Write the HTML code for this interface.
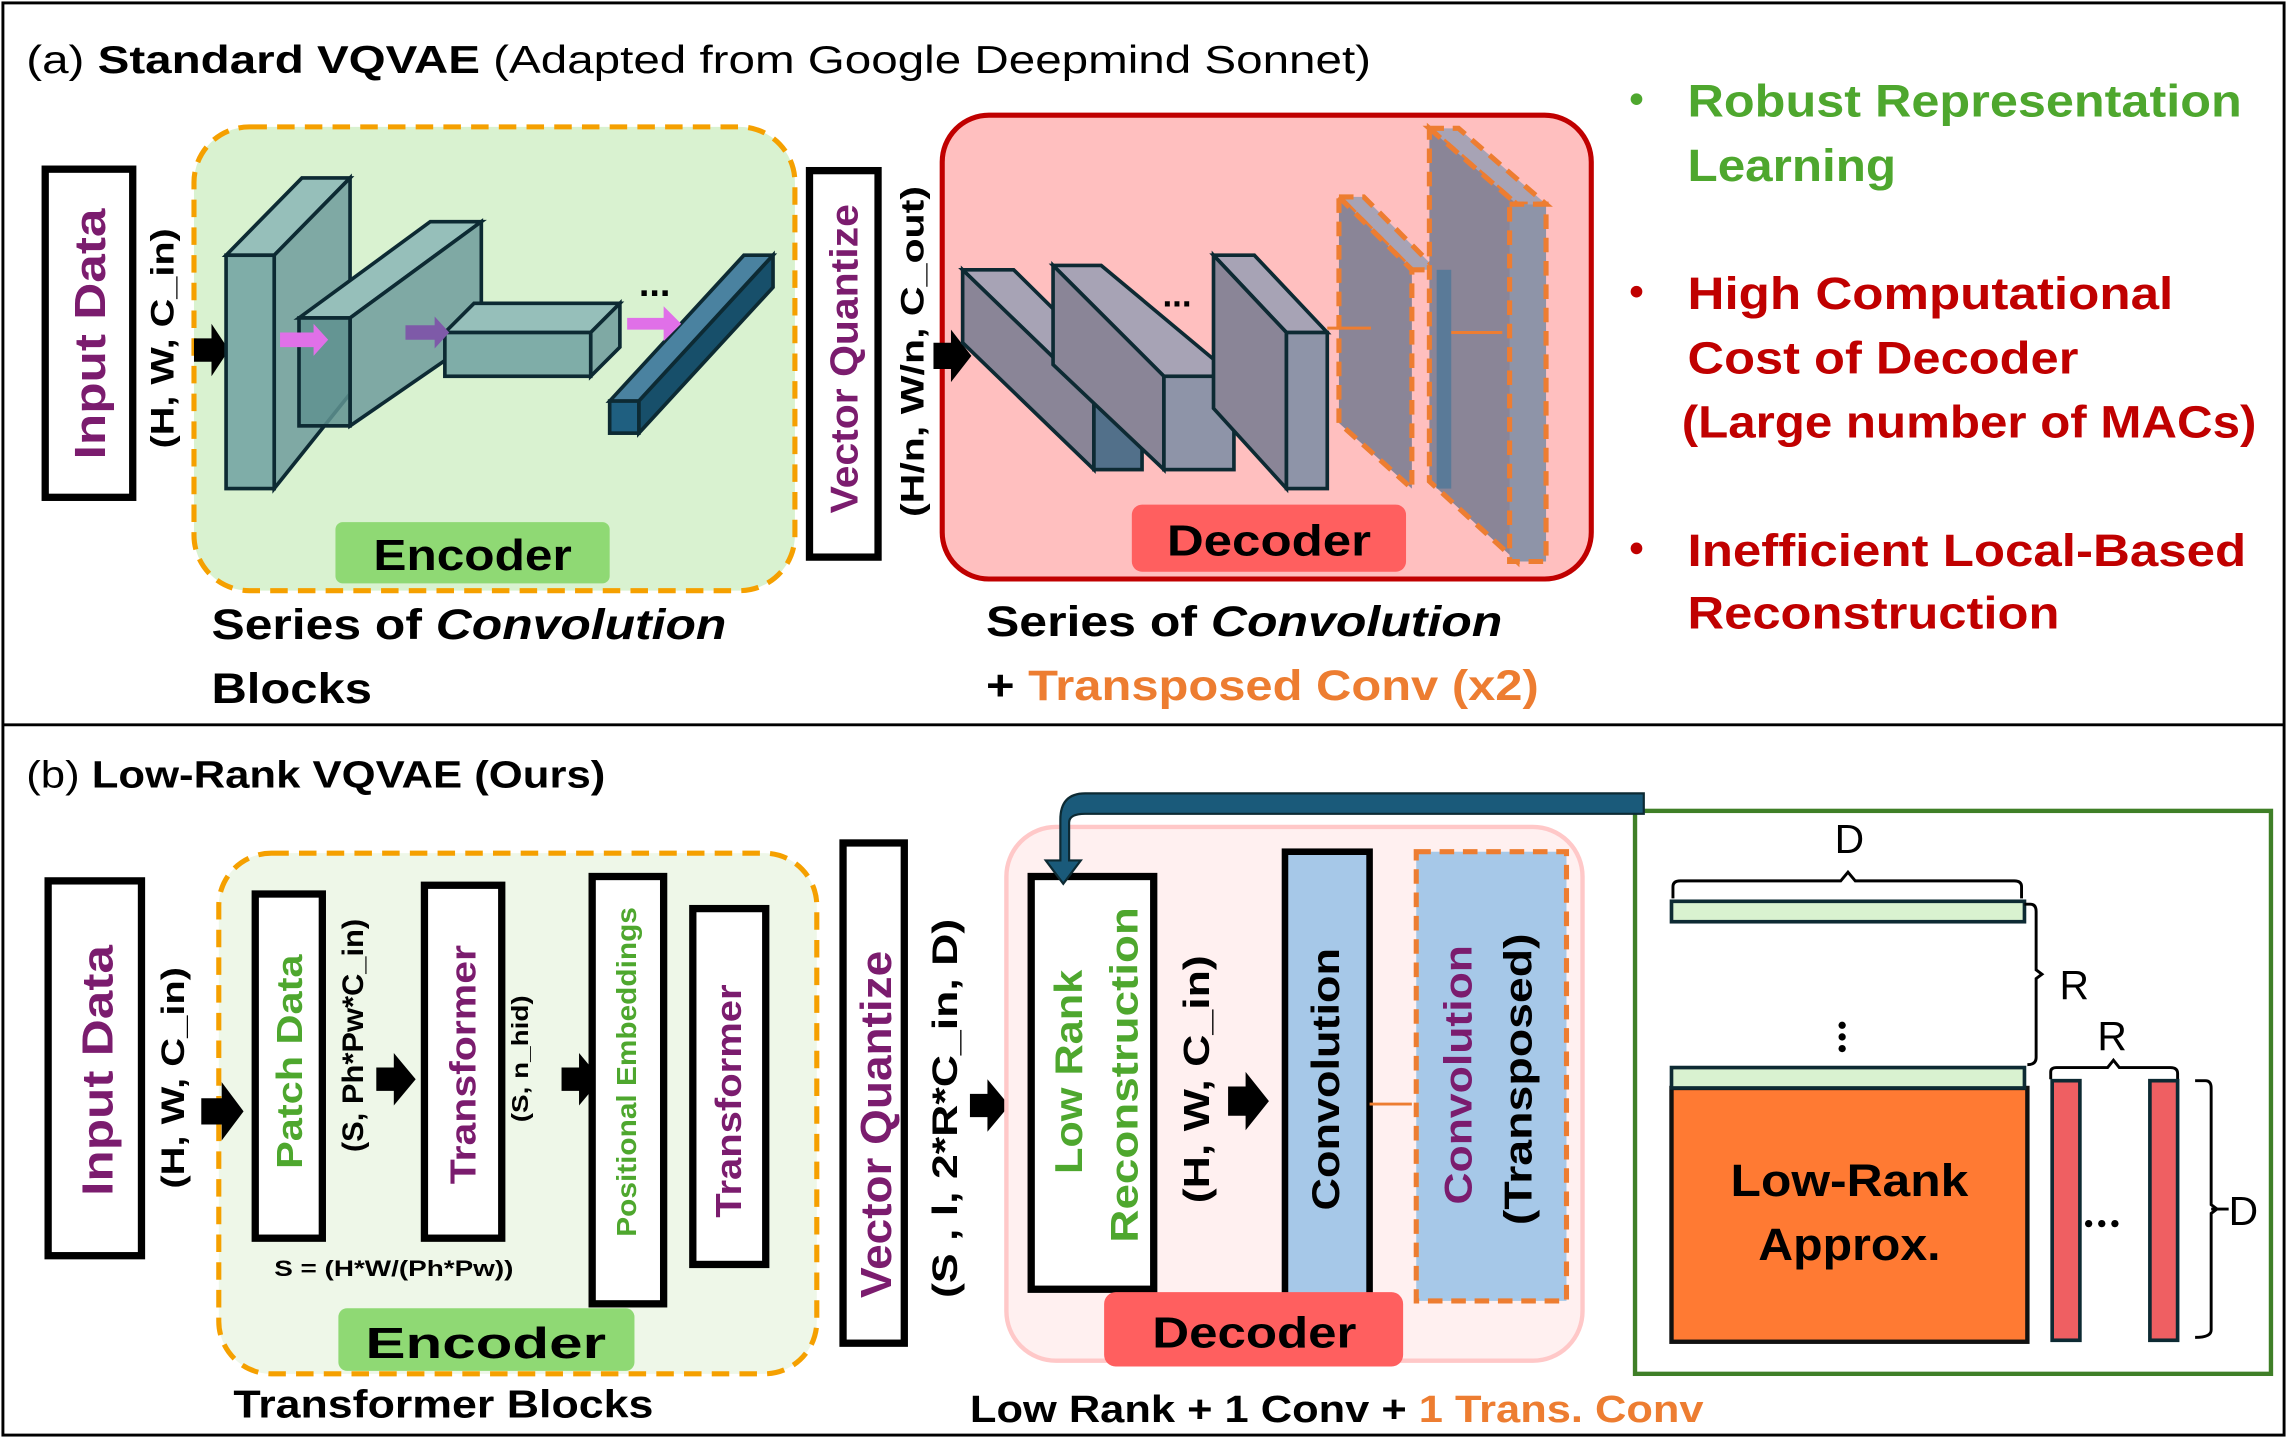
<!DOCTYPE html>
<html><head><meta charset="utf-8"><style>
html,body{margin:0;padding:0;background:#fff;}
svg{display:block;}
text{font-family:"Liberation Sans",sans-serif;font-weight:bold;}
</style></head><body>
<svg width="2287" height="1438" viewBox="0 0 1568 986" preserveAspectRatio="none" xmlns="http://www.w3.org/2000/svg">
<rect x="2" y="2" width="1564" height="982" fill="#fff" stroke="#000" stroke-width="2"/>
<line x1="2" y1="497" x2="1566" y2="497" stroke="#000" stroke-width="2"/>

<!-- Panel A -->
<text x="18" y="50" font-size="27" style="font-weight:normal" textLength="922" lengthAdjust="spacingAndGlyphs">(a) <tspan font-weight="bold">Standard VQVAE</tspan> (Adapted from Google Deepmind Sonnet)</text>

<rect x="31" y="116" width="60" height="225" fill="#fff" stroke="#000" stroke-width="5"/>
<text transform="translate(72,229) rotate(-90)" text-anchor="middle" font-size="30" fill="#7b1c6e" textLength="172" lengthAdjust="spacingAndGlyphs">Input Data</text>
<text transform="translate(119,232) rotate(-90)" text-anchor="middle" font-size="22" textLength="151" lengthAdjust="spacingAndGlyphs">(H, W, C_in)</text>

<rect x="133" y="87" width="412" height="318" rx="38" fill="#d9f2d0" stroke="#f5a000" stroke-width="3.5" stroke-dasharray="12,7"/>
<polygon points="133,232 145,232 145,222 157,240 145,258 145,248 133,248" fill="#000"/>
<g stroke="#0d2a33" stroke-width="2.5">
<polygon points="155,175 207,122 240,122 188,175" fill="#96bfba"/>
<polygon points="188,175 240,122 240,270 188,335" fill="#7fa9a4"/>
<rect x="155" y="175" width="33" height="160" fill="#7fada8"/>
<polygon points="205,218 295,152 330,152 240,218" fill="#96bfba"/>
<polygon points="240,218 330,152 330,230 240,292" fill="#7fa9a4"/>
<rect x="205" y="218" width="35" height="74" fill="#5f9290" fill-opacity="0.85"/>
<polygon points="305,228 325,208 425,208 405,228" fill="#96bfba"/>
<polygon points="405,228 425,208 425,238 405,258" fill="#7fa9a4"/>
<rect x="305" y="228" width="100" height="30" fill="#7fada8"/>
<polygon points="418,275 510,175 530,175 438,275" fill="#4a82a0"/>
<polygon points="438,275 530,175 530,197 438,297" fill="#174f6a"/>
<rect x="418" y="275" width="20" height="22" fill="#1f5f80"/>
</g>
<polygon points="192,228 215,228 215,222 225,233 215,244 215,238 192,238" fill="#e070e8"/>
<polygon points="278,223 298,223 298,217 308,228 298,239 298,233 278,233" fill="#7e5aa8"/>
<polygon points="430,218 455,218 455,210 467,222 455,234 455,226 430,226" fill="#e070e8"/>
<text x="438" y="203" font-size="26">...</text>
<rect x="230" y="358" width="188" height="42" rx="5" fill="#8fd974"/>
<text x="324" y="391" text-anchor="middle" font-size="30" textLength="136" lengthAdjust="spacingAndGlyphs">Encoder</text>
<text x="145" y="438" font-size="29" textLength="353" lengthAdjust="spacingAndGlyphs">Series of <tspan font-style="italic">Convolution</tspan></text>
<text x="145" y="482" font-size="29" textLength="110" lengthAdjust="spacingAndGlyphs">Blocks</text>

<rect x="555" y="117" width="47" height="265" fill="#fff" stroke="#000" stroke-width="5"/>
<text transform="translate(588,246) rotate(-90)" text-anchor="middle" font-size="27" fill="#7b1c6e" textLength="212" lengthAdjust="spacingAndGlyphs">Vector Quantize</text>
<text transform="translate(633,241) rotate(-90)" text-anchor="middle" font-size="22" textLength="227" lengthAdjust="spacingAndGlyphs">(H/n, W/n, C_out)</text>

<rect x="646" y="79" width="445" height="318" rx="32" fill="#ffbfbf" stroke="#c00000" stroke-width="3.5"/>
<polygon points="640,235 652,235 652,226 666,244 652,262 652,253 640,253" fill="#000"/>
<g stroke="#0d2a33" stroke-width="2.5">
<polygon points="660,185 695,185 783,272 750,272" fill="#a7a3b5"/>
<polygon points="660,185 750,272 750,322 660,235" fill="#8a8597"/>
<rect x="750" y="272" width="33" height="50" fill="#52708a"/>
<polygon points="722,182 755,182 846,258 798,258" fill="#a7a3b5"/>
<polygon points="722,182 798,258 798,322 722,250" fill="#8a8597"/>
<rect x="798" y="258" width="48" height="64" fill="#8e94a8"/>
<polygon points="832,175 860,175 910,228 882,228" fill="#a7a3b5"/>
<polygon points="832,175 882,228 882,335 832,280" fill="#8a8597"/>
<rect x="882" y="228" width="28" height="107" fill="#8e94a8"/>
</g>
<g stroke="#ed7d31" stroke-width="3.5" stroke-dasharray="10,6">
<polygon points="918,135 935,135 985,185 968,185" fill="#a7a3b5"/>
<polygon points="918,135 968,185 968,335 918,290" fill="#8a8597"/>
<polygon points="980,88 1000,88 1060,140 1040,140" fill="#a7a3b5"/>
<polygon points="980,88 1040,140 1040,385 980,330" fill="#8a8597"/>
<rect x="1035" y="140" width="25" height="245" fill="#8e94a8"/>
</g>
<rect x="985" y="185" width="10" height="150" fill="#5a7a98"/>
<line x1="910" y1="225" x2="940" y2="225" stroke="#ed7d31" stroke-width="2"/>
<line x1="995" y1="228" x2="1030" y2="228" stroke="#ed7d31" stroke-width="2"/>
<text x="797" y="210" font-size="24">...</text>
<rect x="776" y="346" width="188" height="46" rx="7" fill="#ff5f5f"/>
<text x="870" y="381" text-anchor="middle" font-size="30" textLength="140" lengthAdjust="spacingAndGlyphs">Decoder</text>
<text x="676" y="436" font-size="29" textLength="354" lengthAdjust="spacingAndGlyphs">Series of <tspan font-style="italic">Convolution</tspan></text>
<text x="676" y="480" font-size="29" textLength="379" lengthAdjust="spacingAndGlyphs">+ <tspan fill="#ed7d31">Transposed Conv (x2)</tspan></text>

<g font-size="31">
<circle cx="1122" cy="68" r="4" fill="#4ea72e"/>
<text x="1157" y="80" fill="#4ea72e" textLength="380" lengthAdjust="spacingAndGlyphs">Robust Representation</text>
<text x="1157" y="124" fill="#4ea72e" textLength="143" lengthAdjust="spacingAndGlyphs">Learning</text>
<circle cx="1122" cy="200" r="4" fill="#c00000"/>
<text x="1157" y="212" fill="#c00000" textLength="333" lengthAdjust="spacingAndGlyphs">High Computational</text>
<text x="1157" y="256" fill="#c00000" textLength="268" lengthAdjust="spacingAndGlyphs">Cost of Decoder</text>
<text x="1153" y="300" fill="#c00000" textLength="394" lengthAdjust="spacingAndGlyphs">(Large number of MACs)</text>
<circle cx="1122" cy="376" r="4" fill="#c00000"/>
<text x="1157" y="388" fill="#c00000" textLength="383" lengthAdjust="spacingAndGlyphs">Inefficient Local-Based</text>
<text x="1157" y="431" fill="#c00000" textLength="255" lengthAdjust="spacingAndGlyphs">Reconstruction</text>
</g>

<!-- Panel B -->
<text x="18" y="540" font-size="26" style="font-weight:normal" textLength="397" lengthAdjust="spacingAndGlyphs">(b) <tspan font-weight="bold">Low-Rank VQVAE (Ours)</tspan></text>

<rect x="33" y="604" width="64" height="257" fill="#fff" stroke="#000" stroke-width="5"/>
<text transform="translate(77,734) rotate(-90)" text-anchor="middle" font-size="30" fill="#7b1c6e" textLength="172" lengthAdjust="spacingAndGlyphs">Input Data</text>
<text transform="translate(126,739) rotate(-90)" text-anchor="middle" font-size="22" textLength="152" lengthAdjust="spacingAndGlyphs">(H, W, C_in)</text>

<rect x="150" y="585" width="410" height="357" rx="36" fill="#eef7e8" stroke="#f5a000" stroke-width="3.5" stroke-dasharray="12,7"/>
<polygon points="138,753 152,753 152,742 167,762 152,782 152,771 138,771" fill="#000"/>
<rect x="175" y="613" width="46" height="236" fill="#fff" stroke="#000" stroke-width="5"/>
<text transform="translate(207,728) rotate(-90)" text-anchor="middle" font-size="25" fill="#4ea72e" textLength="147" lengthAdjust="spacingAndGlyphs">Patch Data</text>
<text transform="translate(249,710) rotate(-90)" text-anchor="middle" font-size="20" textLength="160" lengthAdjust="spacingAndGlyphs">(S, Ph*Pw*C_in)</text>
<polygon points="258,732 270,732 270,722 285,740 270,758 270,748 258,748" fill="#000"/>
<rect x="291" y="607" width="53" height="242" fill="#fff" stroke="#000" stroke-width="5"/>
<text transform="translate(326,730) rotate(-90)" text-anchor="middle" font-size="25" fill="#7b1c6e" textLength="164" lengthAdjust="spacingAndGlyphs">Transformer</text>
<text transform="translate(362,726) rotate(-90)" text-anchor="middle" font-size="16" textLength="87" lengthAdjust="spacingAndGlyphs">(S, n_hid)</text>
<polygon points="385,732 397,732 397,722 412,740 397,758 397,748 385,748" fill="#000"/>
<rect x="406" y="601" width="49" height="293" fill="#fff" stroke="#000" stroke-width="5"/>
<text transform="translate(436,735) rotate(-90)" text-anchor="middle" font-size="19" fill="#4ea72e" textLength="226" lengthAdjust="spacingAndGlyphs">Positional Embeddings</text>
<rect x="475" y="623" width="50" height="244" fill="#fff" stroke="#000" stroke-width="5"/>
<text transform="translate(508,755) rotate(-90)" text-anchor="middle" font-size="25" fill="#7b1c6e" textLength="160" lengthAdjust="spacingAndGlyphs">Transformer</text>
<text x="188" y="875" font-size="15" textLength="164" lengthAdjust="spacingAndGlyphs">S = (H*W/(Ph*Pw))</text>
<rect x="232" y="897" width="203" height="43" rx="6" fill="#8fd974"/>
<text x="333" y="931" text-anchor="middle" font-size="30" textLength="165" lengthAdjust="spacingAndGlyphs">Encoder</text>
<text x="160" y="972" font-size="27" textLength="288" lengthAdjust="spacingAndGlyphs">Transformer Blocks</text>

<rect x="578" y="578" width="42" height="343" fill="#fff" stroke="#000" stroke-width="5"/>
<text transform="translate(611,771) rotate(-90)" text-anchor="middle" font-size="30" fill="#7b1c6e" textLength="238" lengthAdjust="spacingAndGlyphs">Vector Quantize</text>
<text transform="translate(656,760) rotate(-90)" text-anchor="middle" font-size="24" textLength="260" lengthAdjust="spacingAndGlyphs">(S , l, 2*R*C_in, D)</text>
<polygon points="665,750 677,750 677,740 692,758 677,776 677,766 665,766" fill="#000"/>

<rect x="690" y="567" width="395" height="366" rx="34" fill="#fff0f0" stroke="#ffc8c8" stroke-width="3"/>
<rect x="707" y="601" width="84" height="283" fill="#fff" stroke="#000" stroke-width="5"/>
<text transform="translate(742,735) rotate(-90)" text-anchor="middle" font-size="27" fill="#4ea72e" textLength="140" lengthAdjust="spacingAndGlyphs">Low Rank</text>
<text transform="translate(780,737) rotate(-90)" text-anchor="middle" font-size="27" fill="#4ea72e" textLength="230" lengthAdjust="spacingAndGlyphs">Reconstruction</text>
<text transform="translate(829,740) rotate(-90)" text-anchor="middle" font-size="25" textLength="170" lengthAdjust="spacingAndGlyphs">(H, W, C_in)</text>
<polygon points="842,745 854,745 854,735 870,755 854,775 854,765 842,765" fill="#000"/>
<rect x="881" y="584" width="58" height="318" fill="#a6c8e8" stroke="#000" stroke-width="4.5"/>
<text transform="translate(918,740) rotate(-90)" text-anchor="middle" font-size="27" textLength="180" lengthAdjust="spacingAndGlyphs">Convolution</text>
<line x1="939" y1="757" x2="968" y2="757" stroke="#ed7d31" stroke-width="2"/>
<rect x="971" y="584" width="103" height="308" fill="#a6c8e8" stroke="#ed7d31" stroke-width="3.5" stroke-dasharray="10,6"/>
<text transform="translate(1009,737) rotate(-90)" text-anchor="middle" font-size="27" fill="#7b1c6e" textLength="178" lengthAdjust="spacingAndGlyphs">Convolution</text>
<text transform="translate(1050,740) rotate(-90)" text-anchor="middle" font-size="27" textLength="200" lengthAdjust="spacingAndGlyphs">(Transposed)</text>
<rect x="757" y="886" width="205" height="51" rx="8" fill="#ff5f5f"/>
<text x="860" y="924" text-anchor="middle" font-size="30" textLength="140" lengthAdjust="spacingAndGlyphs">Decoder</text>
<text x="665" y="975" font-size="26" textLength="503" lengthAdjust="spacingAndGlyphs">Low Rank + 1 Conv + <tspan fill="#ed7d31">1 Trans. Conv</tspan></text>

<!-- green box -->
<rect x="1121" y="556" width="436" height="386" fill="#fff" stroke="#3f7f27" stroke-width="3"/>
<path d="M1127,544 L744,544 Q727,544 727,562 L727,590 L717,590 L729,606 L741,590 L733,590 L733,564 Q733,558 744,558 L1127,558 Z" fill="#1a5a7a" stroke="#0d2a33" stroke-width="1.5"/>

<text x="1268" y="585" text-anchor="middle" font-size="28" style="font-weight:normal">D</text>
<path d="M1147,616 L1147,608 Q1147,604 1152,604 L1262,604 L1267,598 L1272,604 L1381,604 Q1386,604 1386,608 L1386,616" fill="none" stroke="#000" stroke-width="2"/>
<rect x="1146" y="618" width="242" height="14" fill="#d9f2d0" stroke="#0d2a33" stroke-width="2.5"/>
<path d="M1388,620 L1392,620 Q1396,620 1396,625 L1396,665 L1400,668 L1396,671 L1396,725 Q1396,730 1390,730" fill="none" stroke="#000" stroke-width="2"/>
<text x="1412" y="685" font-size="28" style="font-weight:normal">R</text>
<circle cx="1263" cy="703" r="2.5"/><circle cx="1263" cy="711" r="2.5"/><circle cx="1263" cy="719" r="2.5"/>
<text x="1438" y="720" font-size="28" style="font-weight:normal">R</text>
<path d="M1406,740 L1406,735 Q1406,732 1410,732 L1445,732 L1449,727 L1453,732 L1488,732 Q1493,732 1493,736 L1493,740" fill="none" stroke="#000" stroke-width="2"/>
<rect x="1146" y="746" width="244" height="174" fill="#ff7a33" stroke="#111" stroke-width="3"/>
<rect x="1146" y="732" width="242" height="14" fill="#d9f2d0" stroke="#0d2a33" stroke-width="2.5"/>
<text x="1268" y="820" text-anchor="middle" font-size="31" textLength="163" lengthAdjust="spacingAndGlyphs">Low-Rank</text>
<text x="1268" y="864" text-anchor="middle" font-size="31" textLength="125" lengthAdjust="spacingAndGlyphs">Approx.</text>
<rect x="1407" y="741" width="19" height="178" fill="#ef5f62" stroke="#0d2a33" stroke-width="2.5"/>
<rect x="1474" y="741" width="19" height="178" fill="#ef5f62" stroke="#0d2a33" stroke-width="2.5"/>
<circle cx="1432" cy="839" r="2.5"/><circle cx="1441" cy="839" r="2.5"/><circle cx="1450" cy="839" r="2.5"/>
<path d="M1505,741 L1512,741 Q1516,741 1516,746 L1516,826 L1520,829 L1516,832 L1516,912 Q1516,917 1505,917" fill="none" stroke="#000" stroke-width="2"/>
<line x1="1516" y1="829" x2="1528" y2="829" stroke="#000" stroke-width="2"/>
<text x="1528" y="840" font-size="28" style="font-weight:normal">D</text>
</svg>
</body></html>
